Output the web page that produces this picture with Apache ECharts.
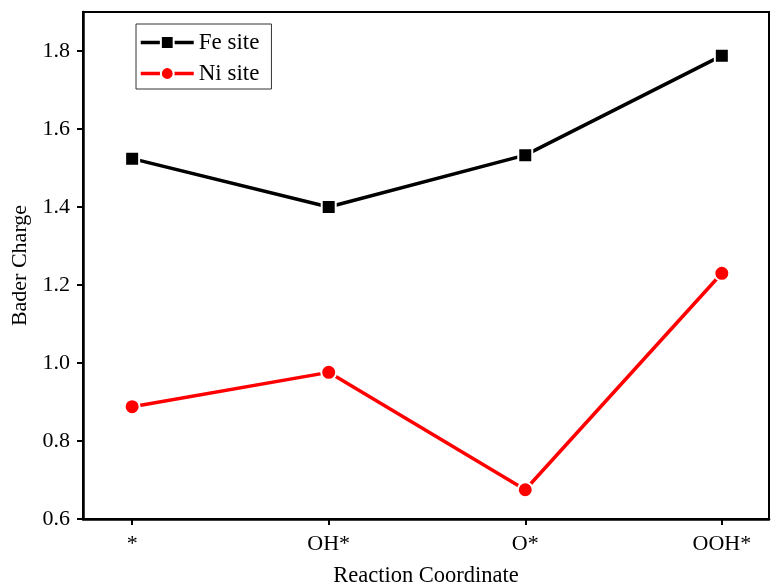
<!DOCTYPE html>
<html>
<head>
<meta charset="utf-8">
<script src="https://cdn.jsdelivr.net/npm/echarts@6/dist/echarts.min.js"></script>
<style>html,body{margin:0;padding:0;background:#fff}#c{width:771px;height:586px}</style>
</head>
<body>
<div id="c"></div>
<script>
const categories = ['*', 'OH*', 'O*', 'OOH*'];
const feSite = [1.524, 1.400, 1.533, 1.788];
const niSite = [0.888, 0.976, 0.675, 1.230];
const yTicks = [0.6, 0.8, 1.0, 1.2, 1.4, 1.6, 1.8];

const FONT = '"Liberation Serif", "DejaVu Serif", serif';
const catIdx = categories.map((_, i) => i);
const toPairs = arr => arr.map((v, i) => [i, v]);

const chart = echarts.init(document.getElementById('c'));
chart.setOption({
  backgroundColor: '#fff',
  animation: false,
  grid: { left: 83, right: 2, top: 12, bottom: 67, containLabel: false, outerBoundsMode: 'none',
          show: true, borderColor: '#000', borderWidth: 2, backgroundColor: 'transparent' },
  legend: {
    orient: 'vertical', left: 136, top: 24,
    itemWidth: 53, itemHeight: 16, itemGap: 8,
    padding: [7, 12, 4, 3],
    borderColor: '#333', borderWidth: 1,
    lineStyle: { width: 3.5 },
    textStyle: { fontFamily: FONT, fontSize: 23, color: '#000' },
    data: ['Fe site', 'Ni site']
  },
  xAxis: {
    type: 'value', min: -0.25, max: 3.24,
    name: 'Reaction Coordinate', nameLocation: 'middle', nameGap: 46,
    nameTextStyle: { fontFamily: FONT, fontSize: 22.5, color: '#000' },
    axisLine: { show: true, onZero: false, lineStyle: { color: '#000', width: 2.5 } },
    axisTick: { show: true, length: 6, lineStyle: { color: '#000', width: 2 }, customValues: catIdx },
    axisLabel: { customValues: catIdx, formatter: v => categories[Math.round(v)] ?? '', fontFamily: FONT, fontSize: 22, color: '#000', margin: 14 },
    splitLine: { show: false }
  },
  yAxis: {
    type: 'value', min: 0.6, max: 1.9, interval: 0.2,
    name: 'Bader Charge', nameLocation: 'middle', nameGap: 52,
    nameTextStyle: { fontFamily: FONT, fontSize: 22, color: '#000' },
    axisLine: { show: true, onZero: false, lineStyle: { color: '#000', width: 2.5 } },
    axisTick: { show: true, length: 6, lineStyle: { color: '#000', width: 2 }, customValues: yTicks },
    axisLabel: { customValues: yTicks, formatter: v => v.toFixed(1), fontFamily: FONT, fontSize: 22, color: '#000', margin: 13 },
    splitLine: { show: false }
  },
  series: [
    {
      name: 'Fe site', type: 'line', data: toPairs(feSite),
      symbol: 'rect', symbolSize: 14,
      lineStyle: { color: '#000', width: 3.5 },
      itemStyle: { color: '#000', borderColor: '#fff', borderWidth: 2 }
    },
    {
      name: 'Ni site', type: 'line', data: toPairs(niSite),
      symbol: 'circle', symbolSize: 15,
      lineStyle: { color: '#ff0000', width: 3.5 },
      itemStyle: { color: '#ff0000', borderColor: '#fff', borderWidth: 2 }
    }
  ]
});
</script>
</body>
</html>
